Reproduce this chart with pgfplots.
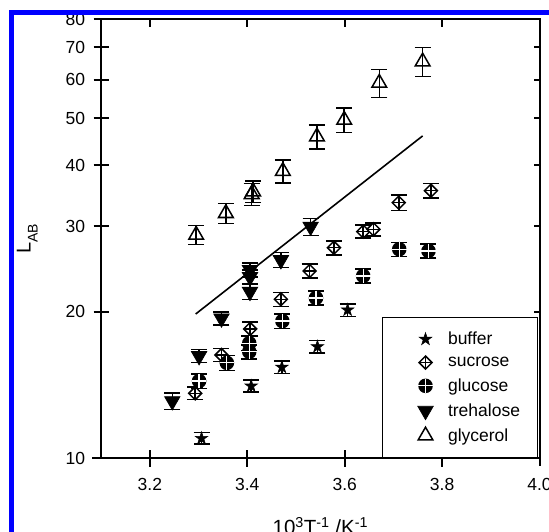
\documentclass[border=0pt]{standalone}
\usepackage{pgfplots}
\pgfplotsset{compat=1.18}
\usepackage{fontspec}
\setmainfont{Liberation Sans}
\usetikzlibrary{plotmarks}

\pgfdeclareplotmark{sucr}{%
  \pgfpathmoveto{\pgfqpoint{0pt}{\pgfplotmarksize}}%
  \pgfpathlineto{\pgfqpoint{\pgfplotmarksize}{0pt}}%
  \pgfpathlineto{\pgfqpoint{0pt}{-\pgfplotmarksize}}%
  \pgfpathlineto{\pgfqpoint{-\pgfplotmarksize}{0pt}}%
  \pgfpathclose
  \pgfusepathqfillstroke
  \pgfpathmoveto{\pgfqpoint{0pt}{\pgfplotmarksize}}%
  \pgfpathlineto{\pgfqpoint{0pt}{-\pgfplotmarksize}}%
  \pgfpathmoveto{\pgfqpoint{-\pgfplotmarksize}{0pt}}%
  \pgfpathlineto{\pgfqpoint{\pgfplotmarksize}{0pt}}%
  \pgfusepathqstroke
}
\pgfdeclareplotmark{gluc}{%
  \pgfpathcircle{\pgfpointorigin}{\pgfplotmarksize}%
  \pgfsetfillcolor{black}%
  \pgfusepathqfill
  \pgfsetstrokecolor{white}%
  \pgfsetlinewidth{1.2pt}%
  \pgfpathmoveto{\pgfqpoint{0pt}{\pgfplotmarksize}}%
  \pgfpathlineto{\pgfqpoint{0pt}{-\pgfplotmarksize}}%
  \pgfpathmoveto{\pgfqpoint{-\pgfplotmarksize}{0pt}}%
  \pgfpathlineto{\pgfqpoint{\pgfplotmarksize}{0pt}}%
  \pgfusepathqstroke
}
\pgfdeclareplotmark{bstar}{%
  \pgfpathmoveto{\pgfqpoint{0pt}{\pgfplotmarksize}}%
  \pgfpathlineto{\pgfqpoint{-0.2245\pgfplotmarksize}{0.309\pgfplotmarksize}}%
  \pgfpathlineto{\pgfqpoint{-0.951\pgfplotmarksize}{0.309\pgfplotmarksize}}%
  \pgfpathlineto{\pgfqpoint{-0.363\pgfplotmarksize}{-0.118\pgfplotmarksize}}%
  \pgfpathlineto{\pgfqpoint{-0.588\pgfplotmarksize}{-0.809\pgfplotmarksize}}%
  \pgfpathlineto{\pgfqpoint{0pt}{-0.382\pgfplotmarksize}}%
  \pgfpathlineto{\pgfqpoint{0.588\pgfplotmarksize}{-0.809\pgfplotmarksize}}%
  \pgfpathlineto{\pgfqpoint{0.363\pgfplotmarksize}{-0.118\pgfplotmarksize}}%
  \pgfpathlineto{\pgfqpoint{0.951\pgfplotmarksize}{0.309\pgfplotmarksize}}%
  \pgfpathlineto{\pgfqpoint{0.2245\pgfplotmarksize}{0.309\pgfplotmarksize}}%
  \pgfpathclose
  \pgfsetfillcolor{black}%
  \pgfusepathqfillstroke
}

\begin{document}
\begin{tikzpicture}
\path[use as bounding box, clip] (0pt,0pt) rectangle (549pt,531pt);
\fill[white] (0pt,0pt) rectangle (549pt,531pt);
\begin{axis}[
  at={(101.2pt,72.7pt)}, anchor=south west,
  scale only axis, width=438.3pt, height=439.3pt,
  xmin=3.1, xmax=4.0, ymode=log, ymin=10, ymax=80,
  clip=false,
  axis line style={line width=2pt},
  xtick={3.2,3.4,3.6,3.8,4.0},
  xticklabels={3.2,3.4,3.6,3.8,4.0},
  ytick={10,20,30,40,50,60,70,80},
  yticklabels={10,20,30,40,50,60,70,80},
  minor ytick={},
  xtick pos=left, ytick pos=left,
  tick align=center,
  major tick length=15pt,
  major tick style={line width=2pt, black},
  /pgf/number format/assume math mode=true,
  tick label style={font=\fontsize{17.5}{20}\selectfont},
  xticklabel style={yshift=-9pt},
  yticklabel style={xshift=-5pt},
  xlabel={10\textsuperscript{3}T\textsuperscript{-1} /K\textsuperscript{-1}},
  xlabel style={font=\fontsize{20.5}{22}\selectfont, at={(axis description cs:0.5,0)}, anchor=base, yshift=-76.7pt},
  ylabel={L\raisebox{-0.35em}{\fontsize{14}{14}\selectfont AB}},
  ylabel style={font=\fontsize{20}{22}\selectfont, at={(axis description cs:-0.169,0.5)}, anchor=center, rotate=0},
  legend style={at={(0.9966,0)}, anchor=south east, draw=black, line width=1pt,
    font=\fontsize{17.5}{20}\selectfont, inner xsep=15.5pt, inner ysep=13pt, row sep=6.75pt, column sep=7pt},
  legend cell align=left,
  legend image code/.code={\path (-18.5pt,0pt) (21.5pt,0pt); \draw[#1] plot coordinates {(8.5pt,0pt)};},
  error bars/error bar style={line width=1.5pt, solid, black},
  error bars/error mark options={rotate=90, line width=1.5pt, mark size=8pt, black},
]
% fit line
\addplot[black, line width=1.6pt, forget plot] coordinates {(3.294,19.8) (3.760,46.0)};
% buffer
\addplot[only marks, mark=bstar, mark size=6.5pt, mark options={line width=0.6pt},
  error bars/.cd, y dir=both, y explicit]
  coordinates {
  (3.306,10.99) +- (0,0.3)
  (3.408,14.08) +- (0,0.4)
  (3.471,15.39) +- (0,0.45)
  (3.544,16.96) +- (0,0.5)
  (3.606,20.18) +- (0,0.6)
  };
\addlegendentry{buffer}
% sucrose
\addplot[only marks, mark=sucr, mark size=6.5pt, mark options={fill=white, line width=1.5pt},
  error bars/.cd, y dir=both, y explicit]
  coordinates {
  (3.293,13.6) +- (0,0.4)
  (3.347,16.31) +- (0,0.5)
  (3.406,18.45) +- (0,0.6)
  (3.469,21.23) +- (0,0.7)
  (3.528,24.27) +- (0,0.8)
  (3.578,27.1) +- (0,0.9)
  (3.638,29.24) +- (0,0.9)
  (3.659,29.57) +- (0,0.9)
  (3.711,33.54) +- (0,1.2)
  (3.777,35.5) +- (0,1.2)
  };
\addlegendentry{sucrose}
% glucose
\addplot[only marks, mark=gluc, mark size=7.3pt,
  error bars/.cd, y dir=both, y explicit]
  coordinates {
  (3.301,14.42) +- (0,0.5)
  (3.358,15.71) +- (0,0.55)
  (3.404,17.24) +- (0,0.6)
  (3.404,16.56) +- (0,0.55)
  (3.472,19.15) +- (0,0.65)
  (3.541,21.36) +- (0,0.7)
  (3.638,23.71) +- (0,0.8)
  (3.712,26.9) +- (0,0.9)
  (3.772,26.68) +- (0,0.9)
  };
\addlegendentry{glucose}
% trehalose
\addplot[only marks, mark=triangle*, mark size=9pt, mark options={rotate=180, fill=black, line width=0.6pt},
  error bars/.cd, y dir=both, y explicit]
  coordinates {
  (3.246,13.11) +- (0,0.5)
  (3.301,16.23) +- (0,0.5)
  (3.347,19.40) +- (0,0.6)
  (3.4055,24.38) +- (0,0.8)
  (3.4055,23.59) +- (0,0.8)
  (3.4055,22.0) +- (0,0.8)
  (3.469,25.56) +- (0,0.9)
  (3.530,29.94) +- (0,1.2)
  };
\addlegendentry{trehalose}
% glycerol
\addplot[only marks, mark=triangle, mark size=8.5pt, mark options={fill=white, line width=1.5pt},
  error bars/.cd, y dir=both, y explicit]
  coordinates {
  (3.295,28.78) +- (0,1.3)
  (3.356,31.9) +- (0,1.5)
  (3.412,35.33) +- (0,1.8)
  (3.409,34.9) +- (0,1.8)
  (3.473,38.93) +- (0,2.1)
  (3.543,45.84) +- (0,2.6)
  (3.599,49.6) +- (0,2.9)
  (3.671,59.1) +- (0,3.9)
  (3.760,65.38) +- (0,4.5)
  };
\addlegendentry{glycerol}
% axis ticks drawn explicitly
\draw[line width=2pt] ([yshift=-8.5pt]axis cs:3.2,10) -- ([yshift=8.5pt]axis cs:3.2,10);
\draw[line width=2pt] ([yshift=-8.5pt]axis cs:3.4,10) -- ([yshift=8.5pt]axis cs:3.4,10);
\draw[line width=2pt] ([yshift=-8.5pt]axis cs:3.6,10) -- ([yshift=8.5pt]axis cs:3.6,10);
\draw[line width=2pt] ([yshift=-8.5pt]axis cs:3.8,10) -- ([yshift=8.5pt]axis cs:3.8,10);
\draw[line width=2pt] (axis cs:3.2,80) -- ([yshift=-8pt]axis cs:3.2,80);
\draw[line width=2pt] (axis cs:3.4,80) -- ([yshift=-8pt]axis cs:3.4,80);
\draw[line width=2pt] (axis cs:3.6,80) -- ([yshift=-8pt]axis cs:3.6,80);
\draw[line width=2pt] (axis cs:3.8,80) -- ([yshift=-8pt]axis cs:3.8,80);
\draw[line width=2pt] ([xshift=-6pt]axis cs:3.1,20) -- ([xshift=6pt]axis cs:3.1,20);
\draw[line width=2pt] ([xshift=-6pt]axis cs:3.1,30) -- ([xshift=6pt]axis cs:3.1,30);
\draw[line width=2pt] ([xshift=-6pt]axis cs:3.1,40) -- ([xshift=6pt]axis cs:3.1,40);
\draw[line width=2pt] ([xshift=-6pt]axis cs:3.1,50) -- ([xshift=6pt]axis cs:3.1,50);
\draw[line width=2pt] ([xshift=-6pt]axis cs:3.1,60) -- ([xshift=6pt]axis cs:3.1,60);
\draw[line width=2pt] ([xshift=-6pt]axis cs:3.1,70) -- ([xshift=6pt]axis cs:3.1,70);
\draw[line width=2pt] (axis cs:4.0,20) -- ([xshift=-6pt]axis cs:4.0,20);
\draw[line width=2pt] (axis cs:4.0,30) -- ([xshift=-6pt]axis cs:4.0,30);
\draw[line width=2pt] (axis cs:4.0,40) -- ([xshift=-6pt]axis cs:4.0,40);
\draw[line width=2pt] (axis cs:4.0,50) -- ([xshift=-6pt]axis cs:4.0,50);
\draw[line width=2pt] (axis cs:4.0,60) -- ([xshift=-6pt]axis cs:4.0,60);
\draw[line width=2pt] (axis cs:4.0,70) -- ([xshift=-6pt]axis cs:4.0,70);
\draw[line width=2pt] ([xshift=-8.7pt]axis cs:3.1,10) -- (axis cs:3.1,10);
\end{axis}
% blue frame
\fill[white] (0pt,518pt) rectangle (549pt,531pt);
\fill[white] (0pt,0pt) rectangle (10pt,531pt);
\draw[blue, line width=4.7pt] (11.7pt,-20pt) -- (11.7pt,518.5pt) -- (570pt,518.5pt);
\end{tikzpicture}
\end{document}
